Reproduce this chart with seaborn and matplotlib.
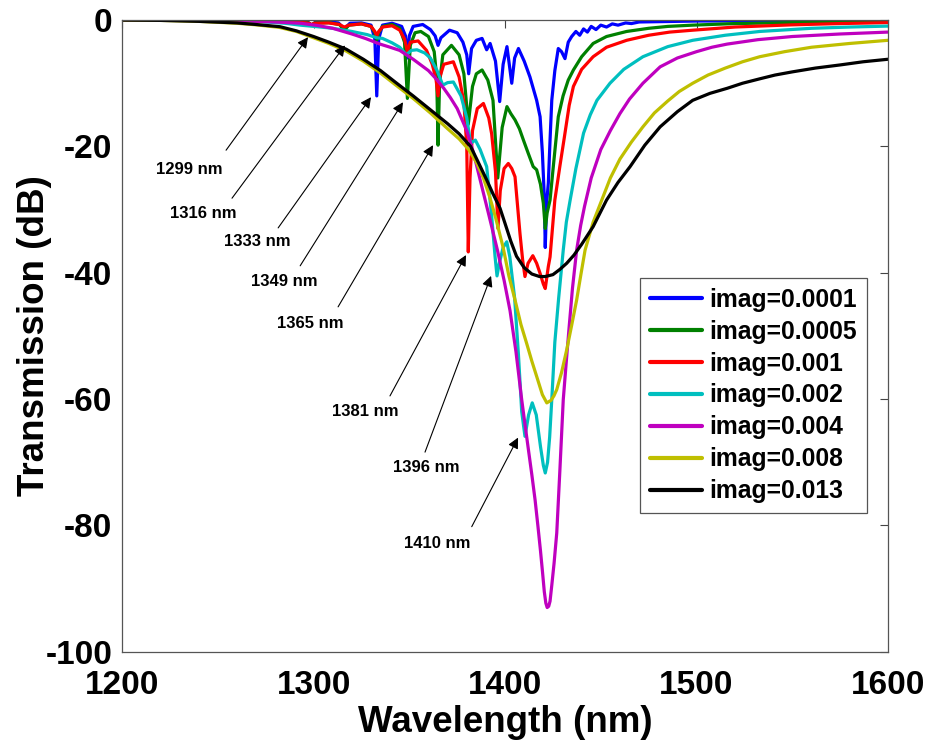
import matplotlib
matplotlib.use("Agg")
import matplotlib.pyplot as plt
import seaborn as sns
import pandas as pd

# ---------------- data ----------------
series_labels = ["imag=0.0001", "imag=0.0005", "imag=0.001", "imag=0.002",
                 "imag=0.004", "imag=0.008", "imag=0.013"]
series_colors = ["#0000ff", "#008000", "#ff0000", "#00bfbf",
                 "#bf00bf", "#bfbf00", "#000000"]

wl_blue = [1200, 1240, 1270, 1285, 1292, 1297, 1299, 1301, 1308, 1313, 1316, 1319, 1325, 1330,
           1332, 1333, 1334, 1336, 1341, 1346, 1348, 1349, 1350, 1352, 1357, 1361, 1363.5, 1365,
           1366.5, 1371, 1375, 1378, 1380, 1381, 1382.5, 1385, 1388, 1390.4, 1392.2, 1395, 1397.2,
           1399, 1401, 1403.5, 1405, 1407, 1410, 1413, 1416.5, 1418.3, 1419.5, 1420.5, 1421,
           1421.7, 1422.6, 1423.5, 1424.4, 1426, 1427.8, 1429.5, 1431.3, 1433, 1434.8, 1437, 1439,
           1441, 1443, 1445, 1447.5, 1450, 1453, 1456, 1459, 1463, 1466, 1470, 1480, 1500, 1550, 1600]
db_blue = [0, -0.02, -0.08, -0.15, -0.25, -0.35, -0.8, -0.35, -0.3, -0.45, -1.4, -0.5, -0.45, -0.8,
           -3.0, -12.0, -3.0, -0.8, -0.5, -1.0, -2.5, -6.0, -2.5, -1.0, -0.7, -1.5, -2.5, -4.0,
           -2.8, -1.6, -2.0, -3.5, -5.5, -8.5, -4.5, -3.2, -2.9, -4.7, -3.7, -6.5, -12.9,
           -7.0, -4.2, -10.0, -6.0, -4.5, -6.5, -9.0, -12.7, -15.3, -21.0, -28.0, -36.0,
           -29.0, -25.8, -19.0, -12.7, -8.0, -4.5, -5.0, -6.1, -3.5, -2.6, -1.8, -2.4,
           -1.4, -1.9, -1.0, -1.5, -0.8, -1.1, -0.6, -0.8, -0.45, -0.55, -0.3, -0.25, -0.15, -0.08, -0.05]

wl_green = [1200, 1240, 1270, 1285, 1293, 1297.5, 1299, 1300.5, 1308, 1313.5, 1316, 1318.5, 1325,
            1330, 1332, 1333, 1334, 1336, 1341, 1345, 1347.5, 1349, 1350.5, 1353, 1356, 1360, 1363,
            1364.3, 1365, 1365.8, 1367.5, 1372, 1376, 1378.5, 1380.8, 1383, 1385, 1388, 1391,
            1393.7, 1396.2, 1398.5, 1401, 1403, 1405.2, 1407.5, 1409.6, 1412, 1414.7, 1416.5,
            1418.5, 1420, 1421, 1422, 1423.5, 1425.2, 1427.8, 1430.3, 1433, 1435.7, 1440, 1446,
            1453, 1463.5, 1475, 1485, 1498, 1520, 1550, 1600]
db_green = [0, -0.02, -0.08, -0.18, -0.3, -0.45, -0.8, -0.45, -0.4, -0.7, -1.6, -0.8, -0.6,
            -1.0, -2.0, -3.2, -2.0, -1.0, -0.7, -1.3, -3.5, -12.4, -4.0, -2.0, -1.8, -2.6, -5.0,
            -9.0, -19.8, -10.0, -5.5, -4.0, -5.5, -8.5, -16.5, -10.5, -8.5, -7.9, -9.5,
            -12.7, -25.0, -17.0, -13.7, -14.8, -15.8, -17.2, -19.0, -21.0, -23.2, -23.7,
            -26.0, -29.0, -33.0, -30.5, -28.5, -23.2, -15.3, -12.0, -9.5, -7.9, -5.8, -3.7,
            -2.6, -1.8, -1.3, -1.0, -0.8, -0.55, -0.4, -0.3]

wl_red = [1200, 1240, 1270, 1285, 1293, 1297.5, 1299, 1300.5, 1308, 1313.5, 1316, 1318.5, 1325,
          1330, 1332, 1333, 1334, 1336, 1341, 1345, 1347.5, 1349, 1350.5, 1354.6, 1359, 1362, 1364,
          1365, 1366, 1368, 1373, 1376, 1378.5, 1380, 1380.8, 1381.7, 1383, 1385.5, 1388.7, 1391.5,
          1393, 1395, 1396.3, 1397.5, 1399.5, 1401.7, 1403.5, 1405.2, 1407.8, 1409.2, 1410.4, 1412,
          1414.5, 1416.5, 1418.3, 1420, 1421, 1422.6, 1423.5, 1426, 1428.7, 1431, 1433.5, 1435.7,
          1440, 1446, 1453, 1463.5, 1475, 1486, 1498, 1520, 1550, 1575, 1600]
db_red = [0, -0.02, -0.1, -0.2, -0.35, -0.5, -0.7, -0.5, -0.45, -0.7, -1.1, -0.8, -0.6,
          -1.0, -1.8, -2.5, -1.8, -1.1, -0.9, -1.6, -3.0, -5.0, -3.5, -3.3, -4.8, -7.0, -9.5,
          -12.0, -9.0, -7.0, -6.6, -9.0, -13.0, -20.0, -36.7, -25.0, -17.5, -14.0, -13.2, -15.5,
          -18.0, -24.0, -33.0, -27.0, -23.5, -22.7, -23.5, -24.8, -33.8, -38.0, -40.6, -38.5,
          -37.3, -38.5, -40.1, -41.8, -42.5, -39.0, -37.5, -28.5, -23.0, -18.5, -13.5, -10.5,
          -7.8, -5.8, -4.3, -3.2, -2.4, -1.9, -1.6, -1.1, -0.75, -0.55, -0.4]

wl_cyan = [1200, 1240, 1270, 1285, 1293, 1302, 1310, 1320, 1328, 1333, 1336, 1341, 1345, 1348.5,
           1351, 1354, 1358, 1361, 1364.5, 1367.5, 1370, 1373, 1377, 1380, 1382, 1384.5, 1387,
           1390.4, 1393, 1394.8, 1395.8, 1397, 1399, 1400.9, 1402.5, 1405, 1407, 1408.7, 1410.4,
           1412.3, 1414.2, 1416.3, 1418.5, 1420, 1421, 1422.2, 1423.3, 1424.4, 1426, 1428, 1430.4,
           1432, 1434, 1437, 1441, 1444.5, 1448, 1454.8, 1462, 1472, 1485, 1498, 1515, 1533,
           1560, 1580, 1600]
db_cyan = [0, -0.05, -0.2, -0.5, -0.8, -1.05, -1.3, -1.8, -2.3, -2.8, -2.9, -3.6, -4.3, -5.5,
           -4.8, -4.7, -5.2, -6.0, -8.0, -10.3, -9.9, -9.8, -12.0, -15.5, -19.5, -19.0, -20.5,
           -23.2, -31.0, -37.5, -40.5, -38.5, -36.0, -35.1, -37.5, -44.0, -53.0, -62.0, -65.9,
           -62.5, -60.6, -62.5, -67.5, -70.5, -71.7, -70.0, -66.0, -60.1, -51.0, -44.0, -36.4,
           -32.0, -28.5, -23.5, -17.9, -15.0, -12.7, -10.0, -7.8, -5.8, -4.2, -3.2, -2.4, -1.8,
           -1.3, -1.1, -0.95]

wl_magenta = [1200, 1240, 1260, 1280, 1293, 1302, 1310, 1320, 1327, 1334.7, 1340, 1345, 1352,
              1360, 1364, 1368, 1371.5, 1375, 1380, 1383.5, 1387, 1391.5, 1396, 1399.5, 1402.6,
              1405.7, 1408.7, 1410.5, 1412.2, 1414, 1415.7, 1417.2, 1418.5, 1419.6, 1420.5,
              1421.3, 1422, 1422.8, 1423.5, 1424.4, 1425.6, 1427, 1428.6, 1430.4, 1432, 1433.5,
              1435.2, 1437.4, 1439.5, 1441.5, 1445, 1450, 1455, 1460, 1465, 1472, 1481, 1490,
              1500, 1508, 1516, 1532, 1550, 1575, 1600]
db_magenta = [0, -0.05, -0.1, -0.3, -0.5, -0.85, -1.3, -2.2, -2.9, -3.8, -4.3, -4.8, -6.2,
              -8.0, -9.3, -10.8, -12.3, -14.0, -17.5, -21.0, -25.3, -30.8, -36.4, -41.2, -46.0,
              -52.5, -60.1, -64.2, -68.0, -72.0, -76.0, -80.2, -84.0, -87.5, -90.5,
              -92.3, -93.0, -92.8, -92.0, -89.5, -86.0, -81.2, -71.5, -60.1, -54.0, -48.5,
              -42.5, -36.4, -32.5, -29.5, -25.0, -20.5, -17.5, -14.8, -12.5, -10.0, -7.4, -6.0,
              -5.0, -4.3, -3.8, -3.1, -2.6, -2.2, -1.9]

wl_yellow = [1200, 1220, 1240, 1260, 1270, 1282, 1291, 1300, 1308, 1317, 1326, 1335, 1343, 1352,
             1361, 1370, 1376, 1381, 1385, 1388.7, 1392, 1395, 1399, 1402, 1405.2, 1408.3, 1411.3,
             1414, 1416.5, 1419.5, 1421.8, 1424, 1425.5, 1427, 1429.5, 1432.2, 1434.8, 1437.4,
             1439.6, 1441.8, 1446, 1450.5, 1455, 1460, 1466, 1472, 1478, 1485, 1491, 1498, 1506,
             1515, 1524, 1533, 1546, 1560, 1580, 1600]
db_yellow = [0, -0.05, -0.2, -0.5, -0.75, -1.15, -1.8, -2.8, -3.7, -4.9, -6.5, -8.4, -10.3, -12.4,
             -14.7, -17.2, -18.8, -20.5, -22.5, -25.0, -28.0, -31.2, -36.0, -40.5, -44.3, -48.2,
             -51.2, -54.0, -56.4, -59.3, -60.6, -60.2, -59.5, -58.5, -55.8, -52.2, -48.3, -44.3,
             -40.3, -36.4, -32.0, -28.5, -25.0, -22.0, -19.3, -16.9, -14.7, -12.8, -11.3, -10.0,
             -8.7, -7.6, -6.6, -5.8, -5.0, -4.3, -3.7, -3.2]

wl_black = [1200, 1220, 1240, 1260, 1270, 1282.5, 1291, 1300, 1308, 1317, 1326, 1335, 1343, 1352,
            1361, 1370, 1376, 1382, 1386, 1390.4, 1393.7, 1397.4, 1400, 1403, 1406, 1410, 1414,
            1418, 1421, 1425, 1428.5, 1432.2, 1436, 1440, 1446, 1453, 1459, 1465.3, 1473, 1481,
            1490, 1498, 1507, 1516, 1524, 1533, 1541, 1550, 1562, 1575, 1587, 1600]
db_black = [0, -0.05, -0.2, -0.45, -0.7, -1.05, -1.7, -2.6, -3.5, -4.6, -6.2, -8.0, -9.9, -12.0,
            -14.2, -16.4, -18.0, -20.0, -22.5, -25.3, -27.5, -29.8, -32.2, -35.0, -37.4, -39.2,
            -40.2, -40.6, -40.6, -40.3, -39.5, -38.5, -37.2, -35.5, -32.7, -28.5, -25.7, -23.2,
            -19.8, -16.9, -14.5, -12.7, -11.6, -10.8, -10.0, -9.3, -8.7, -8.2, -7.6, -7.1, -6.6,
            -6.2]

x_ticks = [1200, 1300, 1400, 1500, 1600]
y_ticks = [0, -20, -40, -60, -80, -100]

annot_labels = ["1299 nm", "1316 nm", "1333 nm", "1349 nm", "1365 nm", "1381 nm", "1396 nm", "1410 nm"]

# ---------------- build long table ----------------
all_wl = [wl_blue, wl_green, wl_red, wl_cyan, wl_magenta, wl_yellow, wl_black]
all_db = [db_blue, db_green, db_red, db_cyan, db_magenta, db_yellow, db_black]
frames = []
for lab, w, d in zip(series_labels, all_wl, all_db):
    frames.append(pd.DataFrame({"Wavelength": w, "Transmission": d, "series": lab}))
df = pd.concat(frames, ignore_index=True)

# ---------------- style ----------------
sns.set_style("white")
plt.rcParams["font.family"] = ["Liberation Sans", "DejaVu Sans"]
for k in ["text.color", "axes.labelcolor", "xtick.color", "ytick.color"]:
    plt.rcParams[k] = "black"

fig = plt.figure(figsize=(9.25, 7.44), dpi=100)
ax = fig.add_axes([0.132, 0.124, 0.828, 0.849])

sns.lineplot(data=df, x="Wavelength", y="Transmission", hue="series",
             hue_order=series_labels, palette=series_colors, estimator=None,
             linewidth=2.3, legend=False, ax=ax)

ax.set_xlim(1200, 1600)
ax.set_ylim(-100, 0)
ax.set_xticks(x_ticks)
ax.set_yticks(y_ticks)
ax.set_xticklabels([str(t) for t in x_ticks], fontsize=24, fontweight="bold")
ax.set_yticklabels([str(t) for t in y_ticks], fontsize=24, fontweight="bold")
ax.tick_params(axis="both", direction="in", length=6, width=0.8, color="#444444",
               top=True, right=True, labelcolor="black")
ax.tick_params(axis="x", pad=13)
ax.tick_params(axis="y", pad=7)
for sp in ax.spines.values():
    sp.set_color("#555555")
    sp.set_linewidth(0.9)
    sp.set_visible(True)

ax.set_xlabel("Wavelength (nm)", fontsize=26.5, fontweight="bold", labelpad=3)
ax.set_ylabel("Transmission (dB)", fontsize=26.5, fontweight="bold", labelpad=-5)

# ---------------- annotations ----------------
text_pos = [(1235, -23.6), (1242.5, -30.6), (1270.5, -35.1), (1284.5, -41.4),
            (1298.5, -48.0), (1327.0, -62.0), (1359.0, -70.8), (1364.5, -82.9)]
tails = [(1254.3, -20.6), (1257.4, -28.2), (1281.5, -32.9), (1293.0, -38.9),
         (1312.8, -45.4), (1339.9, -59.5), (1358.2, -68.4), (1382.6, -80.2)]
heads = [(1297.1, -2.7), (1316.4, -4.0), (1330.0, -12.2), (1346.7, -13.0),
         (1362.4, -19.8), (1379.6, -37.2), (1392.7, -40.5), (1406.8, -66.1)]
for lab, tp, tl, hd in zip(annot_labels, text_pos, tails, heads):
    ax.text(tp[0], tp[1], lab, fontsize=12, fontweight="bold", ha="center", va="center",
            color="black")
    ax.annotate("", xy=hd, xytext=tl,
                arrowprops=dict(arrowstyle="-|>", color="black", lw=0.8,
                                mutation_scale=16, shrinkA=0, shrinkB=0))

# ---------------- legend ----------------
handles = ax.lines[:len(series_labels)]
leg = ax.legend(handles, series_labels, loc="upper right", bbox_to_anchor=(0.9726, 0.592),
                prop={"family": "Liberation Sans", "weight": "bold", "size": 17.8},
                frameon=True, fancybox=False, edgecolor="#555555", framealpha=1,
                handlelength=2.1, handletextpad=0.3, labelspacing=0.32, borderpad=0.4,
                borderaxespad=0)
leg.get_frame().set_linewidth(0.9)
for h in leg.legend_handles:
    h.set_linewidth(3)
for t in leg.get_texts():
    t.set_color("black")

fig.savefig("out.png", dpi=100, facecolor="white")
